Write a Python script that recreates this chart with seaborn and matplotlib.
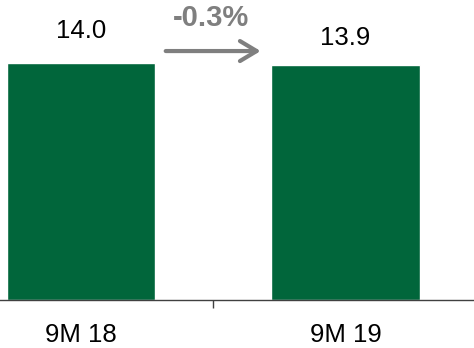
import matplotlib
matplotlib.use("Agg")
import matplotlib.pyplot as plt
import seaborn as sns
import pandas as pd

periods = ["9M 18", "9M 19"]
values = [14.0, 13.9]
change_label = "-0.3%"

bar_color = "#01663B"
grey = "#7F7F7F"

sns.set_theme(style="white")
plt.rcParams["font.family"] = ["Liberation Sans", "DejaVu Sans"]

df = pd.DataFrame({"period": periods, "value": values})

fig = plt.figure(figsize=(4.74, 3.48), dpi=100)
ax = fig.add_axes([0, 0.1365, 1, 0.8635])

sns.barplot(data=df, x="period", y="value", color=bar_color, width=0.56,
            saturation=1, ax=ax)

ax.set_xlim(-0.306, 1.486)
ax.set_ylim(0, 17.72)
ax.set_xlabel("")
ax.set_ylabel("")
ax.set_yticks([])

for side in ["top", "left", "right"]:
    ax.spines[side].set_visible(False)
ax.spines["bottom"].set_color("#404040")
ax.spines["bottom"].set_linewidth(1.0)

# category labels without ticks, single divider tick between the bars
ax.set_xticks([0, 1])
ax.set_xticklabels(periods, fontsize=18.5, color="black")
ax.tick_params(axis="x", which="major", length=0, pad=16)
ax.set_xticks([0.5], minor=True)
ax.tick_params(axis="x", which="minor", bottom=True, length=6, width=1.0,
               color="#404040")

# value labels above the bars
offsets = [23, 19.5]
for i, (v, off) in enumerate(zip(values, offsets)):
    ax.annotate(f"{v:.1f}", xy=(i, v), xytext=(0, off), textcoords="offset points",
                ha="center", va="center", fontsize=18.5, color="black")

# change arrow between the periods
ax.annotate("", xy=(0.69, 14.71), xytext=(0.31, 14.71),
            arrowprops=dict(arrowstyle="->,head_length=1.0,head_width=0.6",
                            color=grey, lw=3))
ax.text(0.49, 16.65, change_label, ha="center", va="center", fontsize=21,
        fontweight="bold", color=grey)

fig.savefig("out.png", dpi=100)
